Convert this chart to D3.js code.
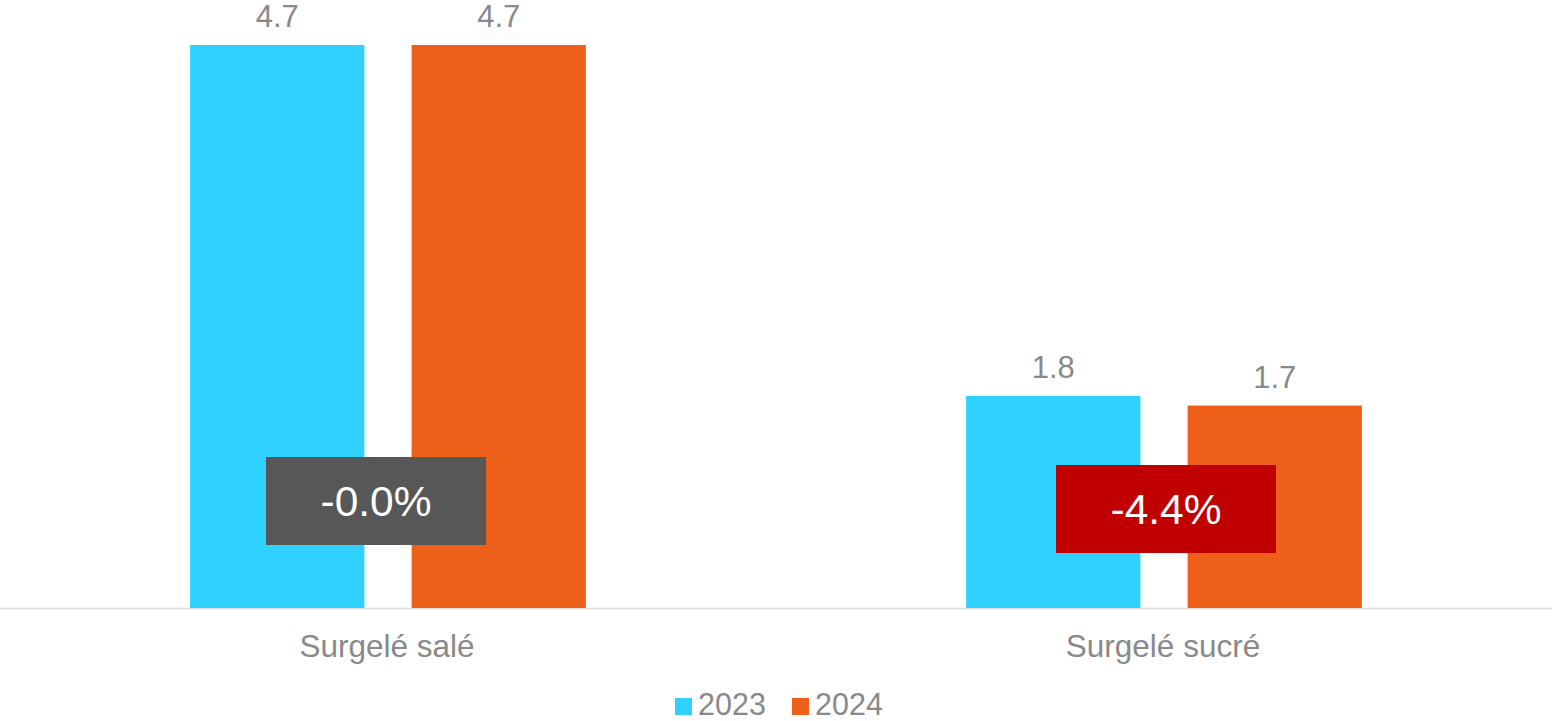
<!DOCTYPE html>
<html>
<head>
<meta charset="utf-8">
<script src="https://cdn.jsdelivr.net/npm/d3@7"></script>
<style>
  html, body { margin: 0; padding: 0; background: #fff; }
  svg { display: block; font-family: "Liberation Sans", Arial, sans-serif; }
</style>
</head>
<body>
<div id="chart"></div>
<script>
// data
var categories = ['Surgelé salé', 'Surgelé sucré'];
var years = ['2023', '2024'];
var values2023 = [4.70, 1.77];
var values2024 = [4.70, 1.69];
var changeLabels = ['-0.0%', '-4.4%'];
var changeColors = ['#575757', '#c00000'];

var width = 1552, height = 721;
var baseY = 608, topY = 45;
var colors = { '2023': '#2ed1ff', '2024': '#ee6019' };
var labelGrey = '#898989';

var rows = categories.map(function(c, i) {
  return { cat: c, i: i, vals: [values2023[i], values2024[i]] };
});

var svg = d3.select('#chart').append('svg')
  .attr('width', width)
  .attr('height', height);

var x0 = d3.scaleBand()
  .domain(categories)
  .range([0, width])
  .paddingInner(0.49)
  .paddingOuter(0.245);

var x1 = d3.scaleBand()
  .domain(years)
  .range([0, x0.bandwidth()])
  .paddingInner(0.213);

var y = d3.scaleLinear()
  .domain([0, 4.7])
  .range([baseY, topY]);

// baseline
svg.append('line')
  .attr('x1', 0).attr('x2', width)
  .attr('y1', baseY + 0.5).attr('y2', baseY + 0.5)
  .attr('stroke', '#d9d9d9')
  .attr('stroke-width', 1.5);

var groups = svg.selectAll('g.group')
  .data(rows)
  .enter().append('g')
  .attr('class', 'group')
  .attr('transform', function(d) { return 'translate(' + x0(d.cat) + ',0)'; });

var bars = groups.selectAll('g.bar')
  .data(function(d) { return d.vals.map(function(v, j) { return { year: years[j], v: v }; }); })
  .enter().append('g');

bars.append('rect')
  .attr('x', function(d) { return x1(d.year); })
  .attr('y', function(d) { return y(d.v); })
  .attr('width', x1.bandwidth())
  .attr('height', function(d) { return baseY - y(d.v); })
  .attr('fill', function(d) { return colors[d.year]; });

bars.append('text')
  .attr('x', function(d) { return x1(d.year) + x1.bandwidth() / 2; })
  .attr('y', function(d) { return y(d.v) - 18; })
  .attr('text-anchor', 'middle')
  .attr('font-size', 31)
  .attr('fill', labelGrey)
  .text(function(d) { return d3.format('.1f')(d.v); });

// category labels
svg.selectAll('text.cat')
  .data(categories)
  .enter().append('text')
  .attr('class', 'cat')
  .attr('x', function(d) { return x0(d) + x0.bandwidth() / 2 - 1; })
  .attr('y', 657)
  .attr('text-anchor', 'middle')
  .attr('font-size', 31.5)
  .attr('fill', labelGrey)
  .text(function(d) { return d; });

// change badges
var badgeDX = [-12, 2], badgeY = [501, 509];
var badges = svg.selectAll('g.badge')
  .data(rows)
  .enter().append('g')
  .attr('transform', function(d) {
    return 'translate(' + (x0(d.cat) + x0.bandwidth() / 2 + badgeDX[d.i]) + ',' + badgeY[d.i] + ')';
  });

badges.append('rect')
  .attr('x', -110).attr('y', -44)
  .attr('width', 220).attr('height', 88)
  .attr('fill', function(d) { return changeColors[d.i]; });

badges.append('text')
  .attr('x', 0)
  .attr('y', 15)
  .attr('text-anchor', 'middle')
  .attr('font-size', 42.5)
  .attr('fill', '#fff')
  .text(function(d) { return changeLabels[d.i]; });

// legend
var legend = svg.append('g').attr('transform', 'translate(675,698)');
var legendX = [0, 117];
var item = legend.selectAll('g')
  .data(years)
  .enter().append('g')
  .attr('transform', function(d, i) { return 'translate(' + legendX[i] + ',0)'; });

item.append('rect')
  .attr('width', 17).attr('height', 17)
  .attr('fill', function(d) { return colors[d]; });

item.append('text')
  .attr('x', 23)
  .attr('y', 17)
  .attr('font-size', 30.5)
  .attr('fill', labelGrey)
  .text(function(d) { return d; });
</script>
</body>
</html>
